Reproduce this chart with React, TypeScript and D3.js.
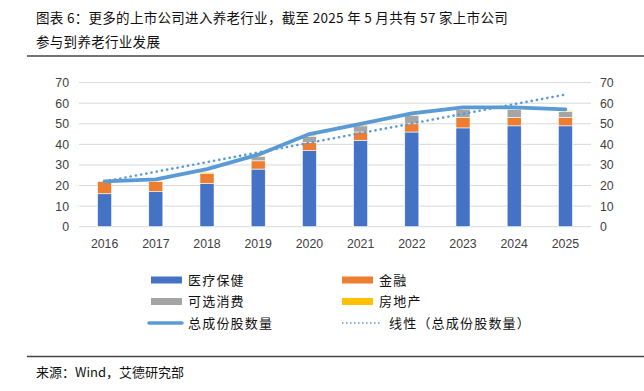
import { useEffect, useRef } from "react";
import * as d3 from "d3";

const years = ["2016", "2017", "2018", "2019", "2020", "2021", "2022", "2023", "2024", "2025"];
const healthcare = [16, 17, 21, 28, 37, 42, 46, 48, 49, 49];
const finance = [6, 5, 5, 4, 4, 4, 4, 5, 4, 4];
const consumer = [0, 0, 0, 2, 3, 3, 4, 4, 4, 3];
const realEstate = [0, 0.5, 0.5, 0.5, 0.5, 0.5, 0.3, 0, 0, 0.5];
const totals = [22, 23, 28, 35, 45, 50, 55, 58, 58, 57];
// Excel linear trendline of totals, read at first and last year
const trendYears = ["2016", "2025"];
const trendValues = [22.0, 64.2];
const yTicks = [0, 10, 20, 30, 40, 50, 60, 70];

const seriesNames = ["医疗保健", "金融", "可选消费", "房地产"];
const colors = ["#4472C4", "#ED7D31", "#A5A5A5", "#FFC000"];
const lineColor = "#5B9BD5";
const cjk = "'Noto Sans CJK SC', 'Noto Sans', sans-serif";

function App() {
  const svgRef = useRef<SVGSVGElement>(null);

  useEffect(() => {
    const svgElement = svgRef.current;
    if (!svgElement) return;

    const svg = d3.select(svgElement);

    // title
    const title = svg.append("g").style("font-family", cjk).style("font-size", "13.5px")
      .style("letter-spacing", "0.3px").attr("fill", "#111");
    title.append("text").attr("x", 36).attr("y", 22.5).text("图表 6：更多的上市公司进入养老行业，截至 2025 年 5 月共有 57 家上市公司");
    title.append("text").attr("x", 36).attr("y", 47).text("参与到养老行业发展");
    svg.append("line").attr("x1", 27).attr("x2", 644).attr("y1", 56).attr("y2", 56).attr("stroke", "#444").attr("stroke-width", 1.3);

    // footer
    svg.append("line").attr("x1", 27).attr("x2", 644).attr("y1", 356.5).attr("y2", 356.5).attr("stroke", "#444").attr("stroke-width", 1.3);
    svg.append("text").attr("x", 36).attr("y", 377).style("font-family", cjk).style("font-size", "13px").attr("fill", "#111").text("来源：Wind，艾德研究部");

    const x = d3.scaleBand().domain(years).range([79, 591]).paddingInner(0.725).paddingOuter(0.3625);
    const y = d3.scaleLinear().domain([0, 70]).range([226.7, 82.6]);
    const cx = (yr: string) => (x(yr) || 0) + x.bandwidth() / 2;

    // gridlines
    svg.append("g").selectAll("line").data(yTicks).enter().append("line")
      .attr("x1", 79).attr("x2", 591)
      .attr("y1", (d) => y(d)).attr("y2", (d) => y(d))
      .attr("stroke", "#D9D9D9").attr("stroke-width", 1);

    // axes
    const axisFont = "'Liberation Sans', Arial, sans-serif";
    const left = svg.append("g").attr("transform", "translate(69,0)")
      .call(d3.axisLeft(y).tickValues(yTicks).tickSize(0).tickPadding(0));
    const right = svg.append("g").attr("transform", "translate(600,0)")
      .call(d3.axisRight(y).tickValues(yTicks).tickSize(0).tickPadding(0));
    const bottom = svg.append("g").attr("transform", "translate(0,226.7)")
      .call(d3.axisBottom(x).tickSize(0).tickPadding(13));
    [left, right, bottom].forEach((g) => {
      g.select(".domain").remove();
      g.selectAll("text").style("font-family", axisFont).style("font-size", "12.3px").attr("fill", "#404040");
    });

    // stacked bars
    const table = years.map((yr, i) => ({ year: yr, s0: healthcare[i], s1: finance[i], s2: consumer[i], s3: realEstate[i] }));
    const stack = d3.stack<any>().keys(["s0", "s1", "s2", "s3"])(table);
    svg.append("g").selectAll("g").data(stack).enter().append("g")
      .attr("fill", (_d, i) => colors[i])
      .selectAll("rect").data((d) => d).enter().append("rect")
      .attr("x", (d) => x(d.data.year) || 0)
      .attr("width", x.bandwidth())
      .attr("y", (d) => y(d[1]))
      .attr("height", (d) => Math.max(0, y(d[0]) - y(d[1])))
      .attr("stroke", "#fff").attr("stroke-width", 0.6);

    // total line
    const line = d3.line<number>().x((_d, i) => cx(years[i])).y((d) => y(d));
    svg.append("path").datum(totals).attr("d", line).attr("fill", "none")
      .attr("stroke", lineColor).attr("stroke-width", 3.8).attr("stroke-linejoin", "round").attr("stroke-linecap", "round");

    // trend line
    const tline = d3.line<number>().x((_d, i) => cx(trendYears[i])).y((d) => y(d));
    svg.append("path").datum(trendValues).attr("d", tline).attr("fill", "none")
      .attr("stroke", lineColor).attr("stroke-width", 2.6).attr("stroke-dasharray", "0.1 5.2").attr("stroke-linecap", "round");

    // legend
    const lg = svg.append("g").style("font-family", cjk).style("font-size", "13px").style("letter-spacing", "1.2px");
    const rows = [280, 301.5, 323];
    const boxes = [
      { x: 151, yy: rows[0], i: 0 },
      { x: 342, yy: rows[0], i: 1 },
      { x: 151, yy: rows[1], i: 2 },
      { x: 342, yy: rows[1], i: 3 },
    ];
    boxes.forEach((b) => {
      lg.append("rect").attr("x", b.x).attr("y", b.yy - 3.5).attr("width", 31).attr("height", 7).attr("fill", colors[b.i]);
      lg.append("text").attr("x", b.x + 37).attr("y", b.yy + 4.5).attr("fill", "#111").text(seriesNames[b.i]);
    });
    lg.append("line").attr("x1", 149).attr("x2", 182).attr("y1", rows[2]).attr("y2", rows[2])
      .attr("stroke", lineColor).attr("stroke-width", 3.5).attr("stroke-linecap", "round");
    lg.append("text").attr("x", 188).attr("y", rows[2] + 4.5).attr("fill", "#111").text("总成份股数量");
    lg.append("line").attr("x1", 342).attr("x2", 380).attr("y1", rows[2]).attr("y2", rows[2])
      .attr("stroke", lineColor).attr("stroke-width", 1.6).attr("stroke-dasharray", "1.5 2.5");
    lg.append("text").attr("x", 389).attr("y", rows[2] + 4.5).attr("fill", "#111").text("线性（总成份股数量）");

    return () => {
      d3.select(svgElement).selectAll("*").remove();
    };
  }, []);

  return (
    <svg ref={svgRef} width={644} height={391} style={{ position: "absolute", left: 0, top: 0, background: "#fff" }}></svg>
  );
}

export default App;
